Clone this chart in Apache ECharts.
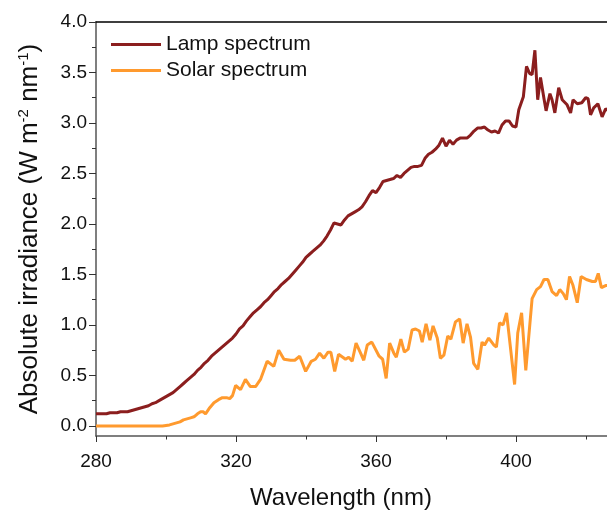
<!DOCTYPE html>
<html>
<head>
<meta charset="utf-8">
<script src="https://cdn.jsdelivr.net/npm/echarts@6/dist/echarts.min.js"></script>
<style>
  html, body { margin: 0; padding: 0; background: #fff; }
  #chart { width: 607px; height: 512px; }
</style>
</head>
<body>
<div id="chart"></div>
<script>
// wavelength (nm) / irradiance (W m-2 nm-1)
const lampWavelength = [
  280, 281, 282, 283, 284, 285, 286, 287, 288, 289,
  290, 291, 292, 293, 294, 295, 296, 297, 298, 299,
  300, 301, 302, 303, 304, 305, 306, 307, 308, 309,
  310, 311, 312, 313, 314, 315, 316, 317, 318, 319,
  320, 321, 322, 323, 324, 325, 326, 327, 328, 329,
  330, 331, 332, 333, 334, 335, 336, 337, 338, 339,
  340, 341, 342, 343, 344, 345, 346, 347, 348, 349,
  350, 351, 352, 353, 354, 355, 356, 357, 358, 359,
  360, 361, 362, 363, 364, 365, 366, 367, 368, 369,
  370, 371, 372, 373, 374, 375, 376, 377, 378, 379,
  380, 381, 382, 383, 384, 385, 386, 387, 388, 389,
  390, 391, 392, 393, 394, 395, 396, 397, 398, 399,
  400, 400.8, 402.1, 403, 403.9, 404.6, 405.4, 406.2, 407, 408,
  408.6, 409.7, 410.3, 411.1, 412.2, 413.2, 414.6, 415.6, 416.3, 417.5,
  418.8, 419.9, 420.6, 421.3, 422.2, 423.4, 424.6, 425.6, 426.5
]
const lampIrradiance = [
  0.12, 0.12, 0.12, 0.12, 0.13, 0.13, 0.13, 0.14, 0.14, 0.14,
  0.15, 0.16, 0.17, 0.18, 0.19, 0.20, 0.22, 0.23, 0.25, 0.27,
  0.29, 0.31, 0.33, 0.36, 0.39, 0.42, 0.45, 0.48, 0.51, 0.55,
  0.58, 0.62, 0.65, 0.69, 0.72, 0.75, 0.78, 0.81, 0.84, 0.87,
  0.91, 0.96, 0.99, 1.04, 1.08, 1.12, 1.15, 1.18, 1.22, 1.25,
  1.29, 1.33, 1.36, 1.40, 1.43, 1.46, 1.50, 1.54, 1.58, 1.62,
  1.67, 1.70, 1.73, 1.76, 1.79, 1.83, 1.88, 1.94, 2.01, 2.00,
  1.99, 2.04, 2.08, 2.10, 2.12, 2.14, 2.17, 2.22, 2.28, 2.33,
  2.31, 2.36, 2.42, 2.43, 2.44, 2.45, 2.48, 2.46, 2.50, 2.53,
  2.56, 2.57, 2.57, 2.58, 2.65, 2.69, 2.71, 2.74, 2.78, 2.85,
  2.77, 2.83, 2.79, 2.83, 2.85, 2.85, 2.85, 2.88, 2.92, 2.95,
  2.95, 2.96, 2.93, 2.91, 2.92, 2.90, 2.98, 3.02, 3.02, 2.97,
  2.96, 3.13, 3.26, 3.56, 3.49, 3.48, 3.72, 3.23, 3.45, 3.24,
  3.12, 3.29, 3.23, 3.10, 3.35, 3.23, 3.18, 3.10, 3.23, 3.19,
  3.20, 3.25, 3.24, 3.08, 3.15, 3.19, 3.06, 3.14, 3.12
]

const solarWavelength = [
  280, 285, 290, 295, 299, 300, 301, 302, 303, 304,
  305, 306, 307, 308, 309, 309.9, 310.6, 311.3, 312.5, 313.7,
  315, 316.1, 317.3, 318.2, 319, 319.9, 321.3, 322.7, 324.1, 325.6,
  327, 328.9, 330.8, 332.2, 333.7, 335.6, 336.8, 338.2, 339.9, 341.5,
  342.7, 343.9, 345.1, 346.3, 347.1, 348.2, 349.3, 351.3, 352.2, 353.2,
  354.3, 355.6, 356.5, 357.5, 358.8, 360.9, 361.9, 362.9, 363.9, 365.1,
  365.8, 367.1, 368.1, 369.2, 370.3, 371.3, 372.4, 373.2, 374.3, 375.4,
  376.3, 377.5, 378.4, 379.4, 380.5, 381.4, 382.7, 383.9, 384.9, 386,
  387, 387.9, 389.1, 390.3, 391, 392.2, 393.7, 394.4, 395.3, 396.3,
  397.3, 399.6, 400.5, 401.6, 402.8, 404.6, 405.9, 407, 408, 409.1,
  410.3, 411.6, 412.5, 413.5, 414.4, 415.3, 416.3, 417.5, 418.6, 420.1,
  421.8, 422.7, 423.5, 424.4, 425.6, 426.5
]
const solarIrradiance = [
  0, 0, 0, 0, 0, 0.005, 0.01, 0.02, 0.03, 0.04,
  0.06, 0.07, 0.08, 0.09, 0.12, 0.14, 0.14, 0.12, 0.18, 0.23,
  0.26, 0.28, 0.28, 0.27, 0.30, 0.40, 0.36, 0.46, 0.39, 0.39,
  0.46, 0.64, 0.59, 0.75, 0.66, 0.65, 0.65, 0.69, 0.54, 0.64,
  0.66, 0.72, 0.67, 0.73, 0.73, 0.54, 0.71, 0.66, 0.68, 0.64,
  0.82, 0.72, 0.65, 0.80, 0.83, 0.69, 0.66, 0.47, 0.82, 0.72,
  0.68, 0.86, 0.73, 0.76, 0.95, 0.96, 0.94, 0.83, 1.01, 0.85,
  0.99, 0.87, 0.67, 0.70, 0.89, 0.86, 1.03, 1.06, 0.82, 1.01,
  0.88, 0.62, 0.56, 0.83, 0.80, 0.87, 0.80, 0.78, 1.02, 1.00,
  1.12, 0.41, 0.92, 1.12, 0.55, 1.26, 1.35, 1.38, 1.45, 1.45,
  1.33, 1.29, 1.35, 1.31, 1.25, 1.48, 1.39, 1.22, 1.48, 1.45,
  1.43, 1.43, 1.51, 1.37, 1.39, 1.39
]

const yMajorTicks = [0, 0.5, 1.0, 1.5, 2.0, 2.5, 3.0, 3.5, 4.0]
const yMinorTicks = [0.25, 0.75, 1.25, 1.75, 2.25, 2.75, 3.25, 3.75]

const chart = echarts.init(document.getElementById('chart'))

const font = 'Liberation Sans, Arial, sans-serif'
const axisGrey = '#555'

const option = {
  animation: false,
  grid: { left: 96, right: 0, top: 22, bottom: 76, outerBoundsMode: 'none', containLabel: false },
  legend: {
    orient: 'vertical',
    left: 111,
    top: 34,
    padding: 0,
    icon: 'rect',
    itemWidth: 50,
    itemHeight: 3,
    itemGap: 5,
    textStyle: { fontFamily: font, fontSize: 21, color: '#111' },
    data: ['Lamp spectrum', 'Solar spectrum']
  },
  xAxis: [
    {
      type: 'value',
      min: 280,
      max: 426,
      interval: 40,
      position: 'bottom',
      axisLine: { onZero: false, lineStyle: { color: axisGrey, width: 1.5 } },
      axisTick: { show: true, length: 6, lineStyle: { color: '#333', width: 1 } },
      minorTick: { show: true, splitNumber: 2, length: 3.5, lineStyle: { color: '#333', width: 1 } },
      splitLine: { show: false },
      axisLabel: {
        margin: 16,
        fontFamily: font,
        fontSize: 19,
        color: '#111',
        showMaxLabel: false
      },
      name: 'Wavelength (nm)',
      nameLocation: 'middle',
      nameGap: 50,
      nameTextStyle: { fontFamily: font, fontSize: 24, color: '#111', padding: [0, 21, 0, 0] }
    },
    {
      type: 'value',
      min: 280,
      max: 426,
      position: 'top',
      axisLine: { onZero: false, lineStyle: { color: '#000', width: 1.5 } },
      axisTick: { show: false },
      axisLabel: { show: false },
      splitLine: { show: false }
    }
  ],
  yAxis: [
    {
      type: 'value',
      min: -0.1,
      max: 4.0,
      axisLine: { show: true, onZero: false, lineStyle: { color: axisGrey, width: 1.5 } },
      axisTick: { show: true, length: 7, customValues: yMajorTicks, lineStyle: { color: '#333', width: 1 } },
      axisLabel: {
        customValues: yMajorTicks,
        formatter: v => v.toFixed(1),
        margin: 9,
        fontFamily: font,
        fontSize: 19,
        color: '#111'
      },
      splitLine: { show: false },
      name: 'Absolute irradiance (W m{sup|-2} nm{sup|-1})',
      nameLocation: 'middle',
      nameGap: 52,
      nameTextStyle: {
        fontFamily: font,
        fontSize: 26,
        color: '#111',
        lineHeight: 28,
        rich: {
          sup: { fontFamily: font, fontSize: 15, color: '#111', lineHeight: 15, verticalAlign: 'top' }
        }
      }
    },
    {
      type: 'value',
      min: -0.1,
      max: 4.0,
      position: 'left',
      axisLine: { show: false, onZero: false },
      axisTick: { show: true, length: 4, customValues: yMinorTicks, lineStyle: { color: '#333', width: 1 } },
      axisLabel: { show: false },
      splitLine: { show: false }
    }
  ],
  series: [
    {
      name: 'Lamp spectrum',
      type: 'line',
      xAxisIndex: 0,
      yAxisIndex: 0,
      symbol: 'none',
      color: '#8b1e1e',
      lineStyle: { width: 3, color: '#8b1e1e' },
      data: lampWavelength.map((w, i) => [w, lampIrradiance[i]])
    },
    {
      name: 'Solar spectrum',
      type: 'line',
      xAxisIndex: 0,
      yAxisIndex: 0,
      symbol: 'none',
      color: '#ff9a2e',
      lineStyle: { width: 3, color: '#ff9a2e' },
      data: solarWavelength.map((w, i) => [w, solarIrradiance[i]])
    }
  ]
}

chart.setOption(option)
</script>
</body>
</html>
